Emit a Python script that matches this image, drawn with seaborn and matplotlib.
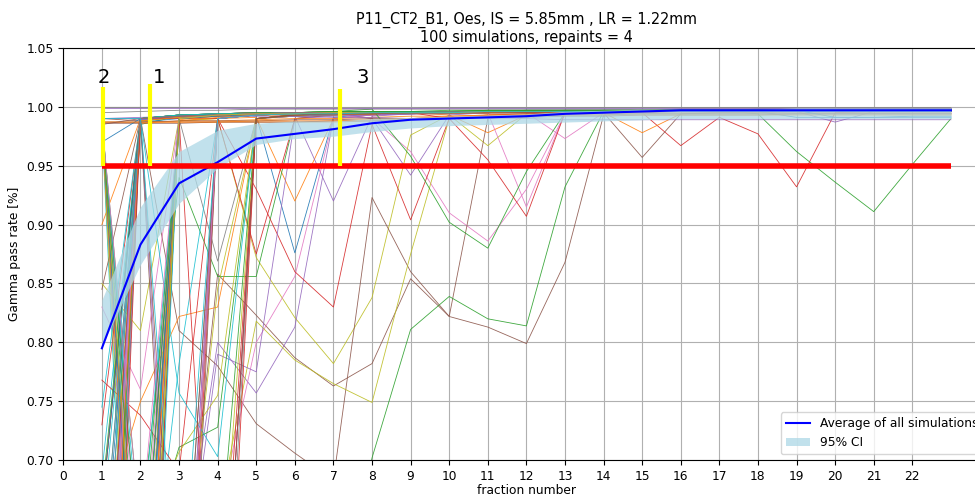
"""
Gamma pass rate per fraction for 100 repainting simulations (P11_CT2_B1, Oes)
"""
import numpy as np
import pandas as pd
import matplotlib
matplotlib.use("Agg")
import matplotlib.pyplot as plt
from matplotlib import font_manager
import seaborn as sns

# fraction numbers on the x axis
fractions = list(range(1, 24))
x_ticks = list(range(0, 23))
y_ticks = [0.70, 0.75, 0.80, 0.85, 0.90, 0.95, 1.00, 1.05]

# average over all simulations and its 95% CI band
mean_gpr = [0.795, 0.883, 0.935, 0.953, 0.973, 0.977, 0.981, 0.986, 0.989, 0.990, 0.991, 0.992,
            0.994, 0.995, 0.996, 0.997, 0.997, 0.997, 0.997, 0.997, 0.997, 0.997, 0.997]
ci_low = [0.797, 0.866, 0.918, 0.948, 0.968, 0.973, 0.975, 0.979, 0.982, 0.984, 0.985, 0.986,
          0.987, 0.988, 0.989, 0.990, 0.990, 0.990, 0.990, 0.990, 0.990, 0.990, 0.990]
ci_high = [0.836, 0.915, 0.962, 0.980, 0.986, 0.988, 0.988, 0.990, 0.991, 0.992, 0.993, 0.994,
           0.996, 0.997, 0.998, 0.998, 0.998, 0.998, 0.999, 0.999, 0.999, 0.999, 0.999]

# pass criterion and the three marked fractions
threshold = 0.95
marker_x = [1.02, 2.25, 7.17]
marker_top = [1.017, 1.019, 1.015]
marker_labels = ["2", "1", "3"]
label_x = [1.05, 2.47, 7.77]
label_y = 1.025

# individual simulations (off-scale ones estimated)
simulations = [
    [0.25, 0.990, 0.993, 0.994, 0.992, 0.876, 0.991, 0.994, 0.995, 0.995, 0.996, 0.996, 0.996, 0.997, 0.997, 0.997, 0.997, 0.998, 0.998, 0.997, 0.998, 0.998, 0.998],
    [0.45, 0.40, 0.988, 0.990, 0.991, 0.920, 0.990, 0.993, 0.994, 0.994, 0.995, 0.995, 0.996, 0.996, 0.996, 0.997, 0.997, 0.997, 0.997, 0.998, 0.998, 0.998, 0.998],
    [0.40, 0.985, 0.992, 0.994, 0.995, 0.995, 0.996, 0.996, 0.996, 0.997, 0.997, 0.997, 0.997, 0.997, 0.997, 0.997, 0.997, 0.994, 0.962, 0.936, 0.911, 0.951, 0.990],
    [0.55, 0.990, 0.992, 0.993, 0.994, 0.995, 0.995, 0.995, 0.996, 0.996, 0.996, 0.996, 0.996, 0.996, 0.995, 0.967, 0.991, 0.977, 0.932, 0.995, 0.996, 0.996, 0.996],
    [0.988, 0.40, 0.990, 0.993, 0.994, 0.992, 0.920, 0.992, 0.994, 0.995, 0.995, 0.996, 0.996, 0.996, 0.997, 0.997, 0.997, 0.997, 0.997, 0.997, 0.998, 0.998, 0.998],
    [0.62, 0.60, 0.55, 0.858, 0.823, 0.787, 0.763, 0.782, 0.854, 0.822, 0.813, 0.799, 0.868, 0.993, 0.995, 0.996, 0.996, 0.997, 0.997, 0.997, 0.997, 0.997, 0.997],
    [0.30, 0.990, 0.993, 0.994, 0.995, 0.995, 0.994, 0.990, 0.962, 0.910, 0.886, 0.930, 0.994, 0.995, 0.996, 0.996, 0.997, 0.997, 0.997, 0.997, 0.997, 0.997, 0.997],
    [0.9995, 0.9995, 0.9995, 0.9993, 0.9990, 0.9990, 0.9990, 0.9990, 0.9990, 0.9992, 0.9992, 0.9992, 0.9992, 0.9993, 0.9993, 0.9993, 0.9993, 0.9993, 0.9993, 0.9993, 0.9993, 0.9993, 0.9993],
    [0.50, 0.35, 0.988, 0.990, 0.872, 0.821, 0.782, 0.838, 0.976, 0.993, 0.967, 0.994, 0.995, 0.996, 0.996, 0.996, 0.997, 0.997, 0.997, 0.997, 0.997, 0.997, 0.997],
    [0.985, 0.30, 0.990, 0.993, 0.994, 0.995, 0.995, 0.996, 0.996, 0.996, 0.996, 0.997, 0.997, 0.997, 0.997, 0.997, 0.997, 0.998, 0.998, 0.998, 0.998, 0.998, 0.998],

    [0.45, 0.987, 0.990, 0.992, 0.993, 0.994, 0.994, 0.995, 0.995, 0.995, 0.995, 0.996, 0.996, 0.996, 0.996, 0.996, 0.997, 0.997, 0.997, 0.997, 0.997, 0.997, 0.997],
    [0.900, 0.990, 0.992, 0.993, 0.994, 0.994, 0.995, 0.995, 0.995, 0.993, 0.978, 0.993, 0.994, 0.995, 0.978, 0.994, 0.995, 0.995, 0.996, 0.996, 0.996, 0.996, 0.996],
    [0.987, 0.64, 0.940, 0.856, 0.856, 0.990, 0.993, 0.994, 0.995, 0.995, 0.996, 0.996, 0.996, 0.996, 0.997, 0.997, 0.997, 0.997, 0.997, 0.997, 0.998, 0.998, 0.998],
    [0.55, 0.45, 0.35, 0.990, 0.875, 0.990, 0.993, 0.994, 0.995, 0.995, 0.995, 0.996, 0.996, 0.996, 0.996, 0.996, 0.997, 0.997, 0.997, 0.997, 0.997, 0.997, 0.997],
    [0.64, 0.60, 0.58, 0.800, 0.757, 0.813, 0.990, 0.993, 0.994, 0.995, 0.995, 0.995, 0.996, 0.996, 0.996, 0.996, 0.997, 0.997, 0.997, 0.997, 0.997, 0.997, 0.997],
    [0.35, 0.990, 0.810, 0.780, 0.731, 0.706, 0.683, 0.923, 0.860, 0.822, 0.990, 0.993, 0.994, 0.995, 0.957, 0.994, 0.995, 0.996, 0.996, 0.996, 0.996, 0.996, 0.996],
    [0.62, 0.55, 0.60, 0.65, 0.800, 0.856, 0.990, 0.993, 0.994, 0.995, 0.995, 0.995, 0.973, 0.995, 0.996, 0.996, 0.996, 0.997, 0.997, 0.997, 0.997, 0.997, 0.997],
    [0.45, 0.30, 0.990, 0.869, 0.990, 0.992, 0.993, 0.994, 0.994, 0.995, 0.995, 0.995, 0.996, 0.996, 0.996, 0.996, 0.996, 0.997, 0.997, 0.997, 0.997, 0.997, 0.997],
    [0.61, 0.63, 0.60, 0.650, 0.818, 0.785, 0.765, 0.749, 0.875, 0.990, 0.993, 0.994, 0.995, 0.995, 0.996, 0.996, 0.996, 0.996, 0.997, 0.997, 0.997, 0.997, 0.997],
    [0.40, 0.50, 0.782, 0.990, 0.993, 0.994, 0.995, 0.995, 0.995, 0.996, 0.996, 0.996, 0.996, 0.997, 0.997, 0.997, 0.997, 0.997, 0.997, 0.997, 0.997, 0.997, 0.997],

    [0.987, 0.50, 0.990, 0.992, 0.993, 0.994, 0.995, 0.995, 0.995, 0.996, 0.996, 0.996, 0.996, 0.996, 0.997, 0.997, 0.997, 0.997, 0.997, 0.996, 0.996, 0.996, 0.996],
    [0.64, 0.75, 0.822, 0.830, 0.990, 0.992, 0.993, 0.994, 0.995, 0.995, 0.995, 0.996, 0.996, 0.996, 0.996, 0.996, 0.996, 0.997, 0.997, 0.997, 0.997, 0.997, 0.997],
    [0.35, 0.990, 0.993, 0.994, 0.995, 0.995, 0.996, 0.996, 0.996, 0.996, 0.997, 0.997, 0.997, 0.997, 0.997, 0.998, 0.998, 0.998, 0.998, 0.998, 0.998, 0.998, 0.998],
    [0.50, 0.30, 0.990, 0.990, 0.930, 0.860, 0.830, 0.985, 0.904, 0.990, 0.993, 0.994, 0.995, 0.995, 0.995, 0.996, 0.996, 0.996, 0.996, 0.996, 0.996, 0.996, 0.996],
    [0.985, 0.60, 0.55, 0.790, 0.775, 0.990, 0.992, 0.993, 0.994, 0.994, 0.995, 0.995, 0.995, 0.996, 0.996, 0.996, 0.996, 0.996, 0.996, 0.987, 0.996, 0.996, 0.996],
    [0.845, 0.990, 0.993, 0.994, 0.995, 0.995, 0.995, 0.996, 0.996, 0.996, 0.996, 0.996, 0.997, 0.997, 0.997, 0.997, 0.997, 0.997, 0.997, 0.997, 0.997, 0.997, 0.997],
    [0.40, 0.50, 0.45, 0.990, 0.993, 0.994, 0.994, 0.995, 0.995, 0.995, 0.996, 0.996, 0.996, 0.996, 0.996, 0.996, 0.997, 0.997, 0.997, 0.997, 0.997, 0.997, 0.997],
    [0.984, 0.45, 0.990, 0.993, 0.994, 0.995, 0.995, 0.996, 0.996, 0.996, 0.996, 0.996, 0.997, 0.997, 0.997, 0.997, 0.997, 0.997, 0.997, 0.997, 0.997, 0.997, 0.997],
    [0.850, 0.810, 0.990, 0.993, 0.994, 0.994, 0.995, 0.995, 0.995, 0.996, 0.996, 0.996, 0.996, 0.996, 0.997, 0.997, 0.997, 0.997, 0.997, 0.997, 0.997, 0.997, 0.997],
    [0.69, 0.990, 0.992, 0.993, 0.994, 0.995, 0.995, 0.995, 0.996, 0.996, 0.996, 0.996, 0.996, 0.996, 0.996, 0.997, 0.997, 0.997, 0.997, 0.997, 0.997, 0.997, 0.997],

    [0.30, 0.55, 0.990, 0.993, 0.994, 0.994, 0.995, 0.995, 0.995, 0.995, 0.996, 0.996, 0.996, 0.996, 0.996, 0.996, 0.996, 0.996, 0.991, 0.991, 0.991, 0.992, 0.992],
    [0.987, 0.987, 0.987, 0.987, 0.987, 0.987, 0.987, 0.988, 0.990, 0.992, 0.993, 0.993, 0.994, 0.994, 0.994, 0.995, 0.995, 0.995, 0.995, 0.995, 0.995, 0.995, 0.995],
    [0.62, 0.60, 0.711, 0.728, 0.990, 0.993, 0.994, 0.995, 0.995, 0.995, 0.996, 0.996, 0.996, 0.996, 0.997, 0.997, 0.997, 0.997, 0.997, 0.997, 0.997, 0.997, 0.997],
    [0.768, 0.738, 0.690, 0.990, 0.993, 0.994, 0.995, 0.995, 0.995, 0.996, 0.996, 0.996, 0.996, 0.996, 0.996, 0.996, 0.996, 0.997, 0.997, 0.997, 0.997, 0.997, 0.997],
    [0.50, 0.40, 0.55, 0.45, 0.990, 0.992, 0.993, 0.994, 0.994, 0.995, 0.995, 0.995, 0.996, 0.996, 0.996, 0.996, 0.996, 0.996, 0.996, 0.996, 0.996, 0.996, 0.996],
    [0.986, 0.986, 0.986, 0.987, 0.987, 0.987, 0.988, 0.988, 0.989, 0.990, 0.991, 0.991, 0.992, 0.992, 0.993, 0.993, 0.993, 0.993, 0.994, 0.994, 0.994, 0.994, 0.994],
    [0.990, 0.58, 0.990, 0.993, 0.994, 0.995, 0.995, 0.995, 0.996, 0.996, 0.996, 0.996, 0.996, 0.997, 0.997, 0.997, 0.997, 0.997, 0.997, 0.997, 0.997, 0.997, 0.997],
    [0.35, 0.45, 0.60, 0.40, 0.990, 0.992, 0.993, 0.994, 0.995, 0.995, 0.995, 0.995, 0.996, 0.996, 0.996, 0.996, 0.996, 0.996, 0.996, 0.996, 0.996, 0.996, 0.996],
    [0.45, 0.35, 0.55, 0.846, 0.990, 0.993, 0.994, 0.994, 0.995, 0.995, 0.995, 0.996, 0.996, 0.996, 0.996, 0.997, 0.997, 0.997, 0.997, 0.997, 0.997, 0.997, 0.997],
    [0.35, 0.25, 0.990, 0.993, 0.994, 0.994, 0.995, 0.995, 0.995, 0.996, 0.996, 0.996, 0.996, 0.996, 0.996, 0.996, 0.997, 0.997, 0.997, 0.997, 0.997, 0.997, 0.997],

    [0.50, 0.988, 0.992, 0.993, 0.994, 0.994, 0.995, 0.995, 0.995, 0.995, 0.996, 0.996, 0.996, 0.996, 0.996, 0.996, 0.996, 0.996, 0.996, 0.996, 0.996, 0.996, 0.996],
    [0.66, 0.986, 0.988, 0.988, 0.989, 0.990, 0.990, 0.991, 0.992, 0.992, 0.993, 0.993, 0.993, 0.994, 0.994, 0.994, 0.994, 0.994, 0.994, 0.994, 0.994, 0.994, 0.994],
    [0.60, 0.62, 0.60, 0.62, 0.60, 0.58, 0.55, 0.702, 0.811, 0.839, 0.820, 0.814, 0.932, 0.996, 0.996, 0.997, 0.997, 0.997, 0.997, 0.997, 0.997, 0.997, 0.997],
    [0.40, 0.55, 0.45, 0.35, 0.990, 0.993, 0.994, 0.995, 0.995, 0.995, 0.995, 0.996, 0.996, 0.996, 0.996, 0.996, 0.996, 0.996, 0.996, 0.996, 0.996, 0.996, 0.996],
    [0.990, 0.991, 0.992, 0.992, 0.992, 0.992, 0.991, 0.991, 0.990, 0.990, 0.990, 0.990, 0.989, 0.989, 0.989, 0.989, 0.989, 0.989, 0.989, 0.989, 0.989, 0.989, 0.989],
    [0.990, 0.988, 0.40, 0.990, 0.993, 0.994, 0.995, 0.995, 0.995, 0.996, 0.996, 0.996, 0.996, 0.996, 0.996, 0.996, 0.996, 0.996, 0.996, 0.996, 0.996, 0.996, 0.996],
    [0.830, 0.760, 0.990, 0.993, 0.994, 0.994, 0.995, 0.995, 0.995, 0.995, 0.995, 0.915, 0.995, 0.996, 0.996, 0.996, 0.996, 0.996, 0.996, 0.996, 0.996, 0.996, 0.996],
    [0.40, 0.990, 0.993, 0.994, 0.995, 0.995, 0.996, 0.996, 0.996, 0.996, 0.996, 0.997, 0.997, 0.997, 0.997, 0.997, 0.997, 0.997, 0.997, 0.997, 0.997, 0.997, 0.997],
    [0.61, 0.63, 0.707, 0.755, 0.990, 0.993, 0.994, 0.994, 0.995, 0.995, 0.995, 0.995, 0.996, 0.996, 0.996, 0.996, 0.996, 0.996, 0.996, 0.996, 0.996, 0.996, 0.996],
    [0.64, 0.990, 0.757, 0.703, 0.990, 0.993, 0.994, 0.994, 0.995, 0.995, 0.995, 0.996, 0.996, 0.996, 0.996, 0.996, 0.996, 0.996, 0.996, 0.996, 0.996, 0.996, 0.996],

    [0.970, 0.990, 0.992, 0.993, 0.994, 0.995, 0.995, 0.995, 0.995, 0.996, 0.996, 0.996, 0.996, 0.996, 0.996, 0.997, 0.997, 0.997, 0.997, 0.991, 0.991, 0.991, 0.991],
    [0.987, 0.50, 0.990, 0.993, 0.994, 0.994, 0.995, 0.995, 0.995, 0.995, 0.996, 0.996, 0.996, 0.996, 0.996, 0.996, 0.996, 0.996, 0.996, 0.996, 0.996, 0.996, 0.996],
    [0.35, 0.990, 0.993, 0.994, 0.995, 0.995, 0.996, 0.998, 0.958, 0.902, 0.880, 0.945, 0.995, 0.996, 0.997, 0.997, 0.997, 0.997, 0.997, 0.998, 0.998, 0.998, 0.998],
    [0.730, 0.990, 0.992, 0.993, 0.994, 0.995, 0.995, 0.995, 0.995, 0.990, 0.955, 0.907, 0.995, 0.996, 0.996, 0.996, 0.996, 0.996, 0.996, 0.996, 0.996, 0.996, 0.996],
    [0.50, 0.990, 0.993, 0.994, 0.995, 0.995, 0.995, 0.990, 0.942, 0.993, 0.995, 0.995, 0.995, 0.996, 0.996, 0.996, 0.996, 0.996, 0.996, 0.996, 0.996, 0.996, 0.996],
    [0.55, 0.40, 0.30, 0.990, 0.993, 0.994, 0.994, 0.995, 0.995, 0.995, 0.995, 0.996, 0.996, 0.996, 0.996, 0.996, 0.996, 0.996, 0.996, 0.996, 0.996, 0.996, 0.996],
    [0.30, 0.45, 0.990, 0.993, 0.994, 0.994, 0.995, 0.995, 0.995, 0.995, 0.996, 0.996, 0.996, 0.996, 0.996, 0.996, 0.996, 0.996, 0.996, 0.996, 0.996, 0.996, 0.996],
    [0.995, 0.996, 0.997, 0.997, 0.998, 0.998, 0.998, 0.998, 0.998, 0.998, 0.998, 0.998, 0.998, 0.998, 0.998, 0.998, 0.998, 0.998, 0.998, 0.998, 0.998, 0.998, 0.998],
    [0.988, 0.35, 0.990, 0.993, 0.994, 0.994, 0.995, 0.995, 0.995, 0.995, 0.996, 0.996, 0.996, 0.996, 0.996, 0.996, 0.996, 0.996, 0.996, 0.996, 0.996, 0.996, 0.996],
    [0.745, 0.990, 0.993, 0.994, 0.994, 0.995, 0.995, 0.995, 0.995, 0.996, 0.996, 0.996, 0.996, 0.996, 0.996, 0.996, 0.996, 0.996, 0.996, 0.996, 0.996, 0.996, 0.996],

    [0.58, 0.988, 0.991, 0.993, 0.994, 0.994, 0.995, 0.995, 0.995, 0.996, 0.996, 0.996, 0.996, 0.996, 0.996, 0.996, 0.997, 0.997, 0.997, 0.997, 0.997, 0.997, 0.997],
    [0.985, 0.45, 0.989, 0.992, 0.993, 0.993, 0.994, 0.994, 0.995, 0.995, 0.995, 0.995, 0.996, 0.996, 0.996, 0.996, 0.996, 0.996, 0.996, 0.996, 0.996, 0.996, 0.996],
    [0.990, 0.60, 0.990, 0.993, 0.994, 0.995, 0.995, 0.996, 0.996, 0.996, 0.996, 0.997, 0.997, 0.997, 0.997, 0.997, 0.997, 0.997, 0.997, 0.997, 0.997, 0.997, 0.997],
    [0.66, 0.990, 0.992, 0.993, 0.994, 0.995, 0.995, 0.995, 0.995, 0.996, 0.996, 0.996, 0.996, 0.996, 0.996, 0.996, 0.996, 0.996, 0.996, 0.996, 0.996, 0.996, 0.996],
    [0.60, 0.55, 0.990, 0.993, 0.994, 0.994, 0.995, 0.995, 0.995, 0.995, 0.996, 0.996, 0.996, 0.996, 0.996, 0.996, 0.996, 0.996, 0.996, 0.996, 0.996, 0.996, 0.996],
    [0.45, 0.50, 0.40, 0.990, 0.993, 0.994, 0.994, 0.995, 0.995, 0.995, 0.995, 0.995, 0.996, 0.996, 0.996, 0.996, 0.996, 0.996, 0.996, 0.996, 0.996, 0.996, 0.996],
    [0.45, 0.989, 0.992, 0.993, 0.994, 0.994, 0.995, 0.995, 0.995, 0.995, 0.995, 0.996, 0.996, 0.996, 0.996, 0.996, 0.996, 0.996, 0.996, 0.996, 0.996, 0.996, 0.996],
    [0.55, 0.60, 0.50, 0.990, 0.993, 0.994, 0.995, 0.995, 0.995, 0.995, 0.996, 0.996, 0.996, 0.996, 0.996, 0.996, 0.996, 0.996, 0.996, 0.996, 0.996, 0.996, 0.996],
    [0.52, 0.988, 0.991, 0.993, 0.994, 0.994, 0.995, 0.995, 0.995, 0.995, 0.995, 0.996, 0.996, 0.996, 0.996, 0.996, 0.996, 0.996, 0.996, 0.996, 0.996, 0.996, 0.996],
    [0.988, 0.62, 0.990, 0.993, 0.994, 0.995, 0.995, 0.995, 0.996, 0.996, 0.996, 0.996, 0.996, 0.996, 0.996, 0.997, 0.997, 0.997, 0.997, 0.997, 0.997, 0.997, 0.997],

    [0.987, 0.48, 0.990, 0.992, 0.993, 0.994, 0.994, 0.995, 0.995, 0.995, 0.996, 0.996, 0.996, 0.996, 0.996, 0.996, 0.996, 0.996, 0.996, 0.996, 0.996, 0.996, 0.996],
    [0.58, 0.45, 0.988, 0.991, 0.993, 0.994, 0.994, 0.995, 0.995, 0.995, 0.995, 0.995, 0.996, 0.996, 0.996, 0.996, 0.996, 0.996, 0.996, 0.996, 0.996, 0.996, 0.996],
    [0.67, 0.990, 0.993, 0.994, 0.995, 0.995, 0.996, 0.996, 0.996, 0.996, 0.997, 0.997, 0.997, 0.997, 0.997, 0.997, 0.997, 0.997, 0.997, 0.997, 0.997, 0.997, 0.997],
    [0.45, 0.58, 0.35, 0.50, 0.990, 0.993, 0.994, 0.994, 0.995, 0.995, 0.995, 0.995, 0.996, 0.996, 0.996, 0.996, 0.996, 0.996, 0.996, 0.996, 0.996, 0.996, 0.996],
    [0.990, 0.990, 0.450, 0.990, 0.993, 0.994, 0.994, 0.995, 0.995, 0.995, 0.995, 0.996, 0.996, 0.996, 0.996, 0.996, 0.996, 0.996, 0.996, 0.996, 0.996, 0.996, 0.996],
    [0.987, 0.987, 0.988, 0.988, 0.988, 0.989, 0.989, 0.990, 0.990, 0.991, 0.992, 0.992, 0.993, 0.993, 0.994, 0.994, 0.994, 0.994, 0.994, 0.994, 0.994, 0.994, 0.994],
    [0.42, 0.990, 0.992, 0.993, 0.994, 0.995, 0.995, 0.995, 0.995, 0.996, 0.996, 0.996, 0.996, 0.996, 0.996, 0.996, 0.996, 0.996, 0.996, 0.996, 0.996, 0.996, 0.996],
    [0.65, 0.40, 0.990, 0.993, 0.994, 0.994, 0.995, 0.995, 0.995, 0.995, 0.995, 0.996, 0.996, 0.996, 0.996, 0.996, 0.996, 0.996, 0.996, 0.996, 0.996, 0.996, 0.996],
    [0.50, 0.60, 0.45, 0.55, 0.990, 0.993, 0.994, 0.994, 0.995, 0.995, 0.995, 0.995, 0.996, 0.996, 0.996, 0.996, 0.996, 0.996, 0.996, 0.996, 0.996, 0.996, 0.996],
    [0.60, 0.990, 0.992, 0.993, 0.994, 0.995, 0.995, 0.995, 0.995, 0.996, 0.996, 0.996, 0.996, 0.996, 0.996, 0.996, 0.996, 0.996, 0.996, 0.996, 0.996, 0.996, 0.996],

    [0.66, 0.989, 0.992, 0.993, 0.994, 0.994, 0.995, 0.995, 0.995, 0.995, 0.996, 0.996, 0.996, 0.996, 0.996, 0.996, 0.996, 0.996, 0.996, 0.996, 0.996, 0.996, 0.996],
    [0.987, 0.987, 0.987, 0.987, 0.988, 0.988, 0.988, 0.989, 0.990, 0.991, 0.992, 0.992, 0.993, 0.993, 0.993, 0.993, 0.993, 0.993, 0.993, 0.993, 0.993, 0.993, 0.993],
    [0.55, 0.45, 0.50, 0.60, 0.990, 0.993, 0.994, 0.995, 0.995, 0.995, 0.996, 0.996, 0.996, 0.996, 0.996, 0.996, 0.996, 0.996, 0.996, 0.996, 0.996, 0.996, 0.996],
    [0.50, 0.990, 0.990, 0.450, 0.990, 0.993, 0.994, 0.994, 0.995, 0.995, 0.995, 0.995, 0.996, 0.996, 0.996, 0.996, 0.996, 0.996, 0.996, 0.996, 0.996, 0.996, 0.996],
    [0.48, 0.989, 0.992, 0.993, 0.994, 0.994, 0.995, 0.995, 0.995, 0.995, 0.996, 0.996, 0.996, 0.996, 0.996, 0.996, 0.996, 0.996, 0.996, 0.996, 0.996, 0.996, 0.996],
    [0.985, 0.990, 0.500, 0.990, 0.993, 0.994, 0.994, 0.995, 0.995, 0.995, 0.995, 0.996, 0.996, 0.996, 0.996, 0.996, 0.996, 0.996, 0.996, 0.996, 0.996, 0.996, 0.996],
    [0.60, 0.50, 0.40, 0.990, 0.993, 0.994, 0.994, 0.995, 0.995, 0.995, 0.995, 0.996, 0.996, 0.996, 0.996, 0.996, 0.996, 0.996, 0.996, 0.996, 0.996, 0.996, 0.996],
    [0.30, 0.990, 0.992, 0.993, 0.994, 0.995, 0.995, 0.995, 0.995, 0.996, 0.996, 0.996, 0.996, 0.996, 0.996, 0.996, 0.996, 0.996, 0.996, 0.996, 0.996, 0.996, 0.996],
    [0.990, 0.52, 0.990, 0.993, 0.994, 0.994, 0.995, 0.995, 0.995, 0.995, 0.996, 0.996, 0.996, 0.996, 0.996, 0.996, 0.996, 0.996, 0.996, 0.996, 0.996, 0.996, 0.996],
    [0.55, 0.990, 0.993, 0.994, 0.994, 0.995, 0.995, 0.995, 0.995, 0.996, 0.996, 0.996, 0.996, 0.996, 0.996, 0.996, 0.996, 0.996, 0.996, 0.996, 0.996, 0.996, 0.996],

    [0.65, 0.50, 0.990, 0.993, 0.994, 0.994, 0.995, 0.995, 0.995, 0.995, 0.996, 0.996, 0.996, 0.996, 0.996, 0.996, 0.996, 0.996, 0.996, 0.996, 0.996, 0.996, 0.996],
    [0.38, 0.988, 0.991, 0.993, 0.994, 0.994, 0.995, 0.995, 0.995, 0.995, 0.995, 0.996, 0.996, 0.996, 0.996, 0.996, 0.996, 0.996, 0.996, 0.996, 0.996, 0.996, 0.996],
    [0.986, 0.56, 0.990, 0.993, 0.994, 0.994, 0.995, 0.995, 0.995, 0.996, 0.996, 0.996, 0.996, 0.996, 0.996, 0.997, 0.997, 0.997, 0.997, 0.997, 0.997, 0.997, 0.997],
    [0.20, 0.990, 0.992, 0.993, 0.994, 0.995, 0.995, 0.995, 0.995, 0.995, 0.996, 0.996, 0.996, 0.996, 0.996, 0.996, 0.996, 0.996, 0.996, 0.996, 0.996, 0.996, 0.996],
    [0.999, 0.999, 0.999, 0.999, 0.999, 0.999, 0.999, 0.999, 0.999, 0.999, 0.999, 0.999, 0.999, 0.999, 0.999, 0.999, 0.999, 0.999, 0.999, 0.999, 0.999, 0.999, 0.999],
    [0.40, 0.55, 0.50, 0.45, 0.990, 0.993, 0.994, 0.994, 0.995, 0.995, 0.995, 0.995, 0.996, 0.996, 0.996, 0.996, 0.996, 0.996, 0.996, 0.996, 0.996, 0.996, 0.996],
    [0.988, 0.64, 0.990, 0.993, 0.994, 0.994, 0.995, 0.995, 0.995, 0.995, 0.996, 0.996, 0.996, 0.996, 0.996, 0.996, 0.996, 0.996, 0.996, 0.996, 0.996, 0.996, 0.996],
    [0.60, 0.990, 0.992, 0.993, 0.994, 0.995, 0.995, 0.995, 0.995, 0.996, 0.996, 0.996, 0.996, 0.996, 0.996, 0.996, 0.996, 0.996, 0.996, 0.996, 0.996, 0.996, 0.996],
    [0.62, 0.35, 0.990, 0.993, 0.994, 0.994, 0.995, 0.995, 0.995, 0.995, 0.996, 0.996, 0.996, 0.996, 0.996, 0.996, 0.996, 0.996, 0.996, 0.996, 0.996, 0.996, 0.996],
    [0.990, 0.990, 0.550, 0.990, 0.993, 0.994, 0.994, 0.995, 0.995, 0.995, 0.996, 0.996, 0.996, 0.996, 0.996, 0.996, 0.996, 0.996, 0.996, 0.996, 0.996, 0.996, 0.996],
]

# long table for seaborn: one row per (simulation, fraction)
rows = []
for sim_id, values in enumerate(simulations):
    for frac, val in zip(fractions, values):
        rows.append({"sim": sim_id, "fraction": frac, "gpr": val})
df = pd.DataFrame(rows)

plt.rcParams["font.size"] = 8.8


def has_font(name):
    try:
        font_manager.findfont(font_manager.FontProperties(family=name),
                              fallback_to_default=False)
        return True
    except ValueError:
        return False


fig = plt.figure(figsize=(9.75, 4.95), dpi=100)
# axes run past the right edge, as in the original screenshot
ax = fig.add_axes([0.0649, 0.0703, 0.950, 0.833])

palette = sns.color_palette("tab10", n_colors=len(simulations))
sns.lineplot(data=df, x="fraction", y="gpr", hue="sim", palette=palette,
             linewidth=0.6, alpha=0.9, legend=False, estimator=None,
             errorbar=None, ax=ax)

band = ax.fill_between(fractions, ci_low, ci_high, color="lightblue", alpha=0.75,
                       linewidth=0, zorder=3, label="95% CI")
sns.lineplot(x=fractions, y=mean_gpr, color="blue", linewidth=1.5, ax=ax,
             label="Average of all simulations", zorder=4)

ax.hlines(threshold, fractions[0], fractions[-1], colors="red", linewidth=4, zorder=5)
ax.vlines(marker_x, threshold, marker_top, colors="yellow", linewidth=3, zorder=6)
for lx, lab in zip(label_x, marker_labels):
    ax.text(lx, label_y, lab, fontsize=14, ha="center", va="center", zorder=7)

ax.set_xlim(0, 24)
ax.set_ylim(0.70, 1.05)
ax.set_xticks(x_ticks)
ax.set_yticks(y_ticks)
ax.set_yticklabels([f"{t:.2f}" for t in y_ticks])
ax.grid(True, color="#b0b0b0", linewidth=0.8)
ax.set_axisbelow(True)
ax.set_xlabel("fraction number", labelpad=0.5)
ax.set_ylabel("Gamma pass rate [%]")

# the title uses a narrow face; take one if it is installed
cond = font_manager.FontProperties(family="DejaVu Sans", stretch="condensed")
if "Condensed" in font_manager.findfont(cond):
    title_kw = dict(fontfamily="DejaVu Sans", fontstretch="condensed", fontsize=11.5)
elif has_font("Liberation Sans Narrow"):
    title_kw = dict(fontfamily="Liberation Sans Narrow", fontsize=13)
else:
    title_kw = dict(fontsize=10.3, linespacing=1.35)
ax.set_title("P11_CT2_B1, Oes, IS = 5.85mm , LR = 1.22mm\n100 simulations, repaints = 4",
             pad=4, **title_kw)

handles, labels = ax.get_legend_handles_labels()
order = [labels.index("Average of all simulations"), labels.index("95% CI")]
ax.legend([handles[i] for i in order], [labels[i] for i in order],
          loc="lower right", fontsize=8.8)

fig.savefig("out.png", dpi=100)
